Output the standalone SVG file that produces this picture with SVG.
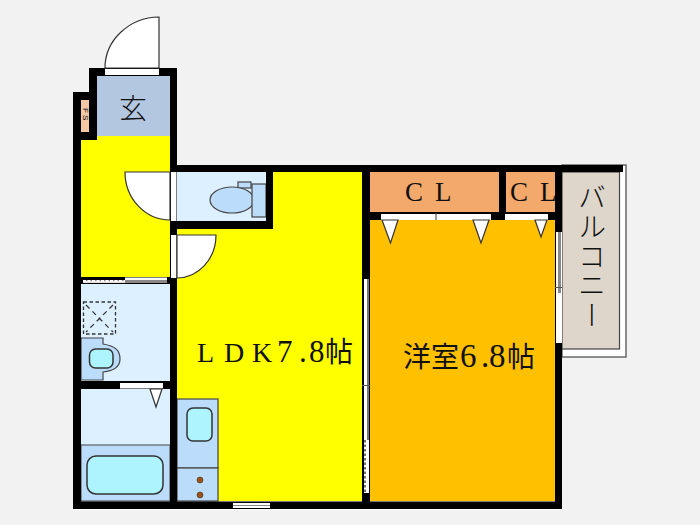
<svg xmlns="http://www.w3.org/2000/svg" width="700" height="525" viewBox="0 0 700 525">
<style>
.w{fill:#000}
.o{fill:#fff}
.l{stroke:#333;stroke-width:1.2}
.f{fill:#bbdcfb;stroke:#444;stroke-width:1.2}
.a{fill:#aef4ff;stroke:#333;stroke-width:1.5}
.t{font-family:"Liberation Serif","Noto Sans CJK JP",serif;fill:#111}
.j{font-family:"Noto Sans CJK JP",sans-serif;font-weight:300;fill:#111}
</style>
<rect width="700" height="525" fill="#f2f2f2"/>
<g id="balcony">
<rect x="562" y="165" width="64" height="192" fill="#fff" stroke="#444" stroke-width="1.2"/>
<rect x="562" y="172" width="57.500" height="177" fill="#ded6cb" stroke="#444" stroke-width="1.2"/>
</g>
<g id="rooms">
<rect id="hall" x="81" y="136" width="89" height="141" fill="#ff0"/>
<rect id="genkan" x="97" y="76" width="73" height="60" fill="#b4c7e0"/>
<path id="ldk" d="M273 172H362V501H177V228H273Z" fill="#ff0"/>
<rect id="toilet" x="177" y="172" width="89" height="49" fill="#dcf0ff"/>
<rect id="wash" x="81" y="284" width="89" height="97" fill="#dcf0ff"/>
<rect id="bath" x="81" y="389" width="89" height="56" fill="#dcf0ff"/>
<rect id="tubroom" x="81" y="445" width="89" height="56" fill="#bbdcfb" stroke="#444" stroke-width="1"/>
<rect id="bedroom" x="370" y="220" width="185" height="281" fill="#ffc000"/>
<rect id="cl1" x="370" y="172" width="129" height="40" fill="#f4a96c"/>
<rect id="cl2" x="506" y="172" width="49" height="40" fill="#f4a96c"/>
<rect id="fs" x="81" y="100" width="8" height="32" fill="#f4c8a4"/>
</g>
<g id="fixtures">
<rect class="f" x="177" y="399" width="41" height="69"/>
<rect class="f" x="177" y="468" width="41" height="33"/>
<rect class="a" x="187" y="408" width="25" height="33" rx="6"/>
<circle cx="200" cy="480" r="3" fill="#a0500f" stroke="#333" stroke-width=".6"/>
<circle cx="200" cy="495" r="3" fill="#a0500f" stroke="#333" stroke-width=".6"/>
<rect class="a" x="87" y="456" width="76" height="38" rx="9"/>
<path class="f" d="M81 338H103V344C115 346 120 350 120 359C120 368 113 371 103 372V380H81Z"/>
<rect class="a" x="89.500" y="349" width="23.500" height="19" rx="6"/>
<rect x="83.500" y="302" width="32" height="32" fill="none" stroke="#333" stroke-width="1.300" stroke-dasharray="3.500 2.500"/>
<path d="M86 305L113 332M113 305L86 332" fill="none" stroke="#333" stroke-width="1.300" stroke-dasharray="5 4"/>
<rect class="f" x="238" y="182" width="13" height="6"/>
<ellipse class="f" cx="232" cy="200" rx="22" ry="13"/>
<rect class="f" x="252" y="184" width="14" height="33"/>
</g>
<g id="walls" class="w">
<rect x="89" y="68" width="88" height="8"/>
<rect x="89" y="68" width="8" height="72"/>
<rect x="73" y="92" width="24" height="8"/>
<rect x="73" y="132" width="24" height="8"/>
<rect x="89" y="92" width="8" height="48"/>
<rect x="73" y="92" width="8" height="417"/>
<rect x="170" y="68" width="7" height="441"/>
<rect x="170" y="165" width="453" height="7"/>
<rect x="170" y="221" width="103" height="8"/>
<rect x="266" y="165" width="7" height="64"/>
<rect x="81" y="277" width="89" height="7"/>
<rect x="73" y="381" width="104" height="8"/>
<rect x="73" y="501.500" width="489" height="7.500"/>
<rect x="362" y="165" width="8" height="344"/>
<rect x="555" y="165" width="7" height="344"/>
<rect x="370" y="212" width="192" height="8"/>
<rect x="499" y="165" width="7" height="55"/>
</g>
<g id="openings">
<rect class="o" x="105" y="69" width="54" height="6"/>
<path class="o l" d="M159 17V68H105A55 51 0 0 1 159 17Z"/>
<rect class="o" x="171" y="172" width="5.500" height="49"/>
<path class="o l" d="M125 172H170V220A45 48 0 0 1 125 172Z"/>
<rect class="o" x="171" y="235" width="5.500" height="43"/>
<path class="o l" d="M177 235H216A39 43 0 0 1 177 278Z"/>
<rect x="125" y="277.500" width="42" height="2.500" fill="#fff"/>
<rect x="83" y="280" width="84" height="3" fill="#888"/>
<rect x="83" y="281" width="42" height="2" fill="#ddd" stroke="none"/>
<path d="M83 281H125" stroke="#fff" stroke-width="2" stroke-dasharray="3 1.500"/>
<rect class="o" x="120" y="383" width="43" height="5.500"/>
<path class="o l" d="M150 389H162L156 407Z"/>
<rect class="o" x="233" y="503" width="37" height="5"/>
<path d="M233 505.500H270" stroke="#888" stroke-width="1"/>
<rect x="364" y="279" width="5" height="214" fill="#fff"/>
<rect x="367" y="279" width="2" height="161" fill="#777"/>
<path d="M362 385.500H370" stroke="#555" stroke-width="1"/>
<path d="M365 440V493" stroke="#444" stroke-width="1.500" stroke-dasharray="2.500 2"/>
<rect x="381" y="214" width="110" height="6" fill="#fff"/>
<path d="M436 213V220" stroke="#333" stroke-width="1"/>
<rect x="505" y="214" width="43" height="6" fill="#fff"/>
<path class="o l" d="M382 220H398L390.500 243Z"/>
<path class="o l" d="M473 220H489L481 243Z"/>
<path class="o l" d="M535 220H547L541 237Z"/>
<rect x="556" y="232" width="6" height="111" fill="#fff"/>
<rect x="558" y="232" width="3" height="61" fill="#888"/>
<path d="M555 287.500H562" stroke="#555" stroke-width="1"/>
<path d="M73 509.700H562" stroke="#fff" stroke-width="1.200"/>
</g>
<g id="labels">
<text class="j" x="133" y="119" font-size="28" text-anchor="middle">玄</text>
<text class="j" transform="translate(82.500 108) rotate(90)" font-size="8" style="font-family:'Liberation Sans',sans-serif;font-weight:400" letter-spacing="2">FS</text>
<text class="t" font-size="28" y="362" x="197 224 252">LDK<tspan font-size="31" x="277 299 309">7.8</tspan><tspan x="325">帖</tspan></text>
<text class="t" font-size="28" y="367" x="403 431">洋室<tspan font-size="33" x="460 481 489">6.8</tspan><tspan x="507">帖</tspan></text>
<text class="t" font-size="27" y="201" x="405 435">CL</text>
<text class="t" font-size="27" y="201" x="510 540">CL</text>
<text class="j" font-size="28" x="592" y="183" style="writing-mode:vertical-rl" letter-spacing="1.500">バルコニー</text>
</g>
</svg>
